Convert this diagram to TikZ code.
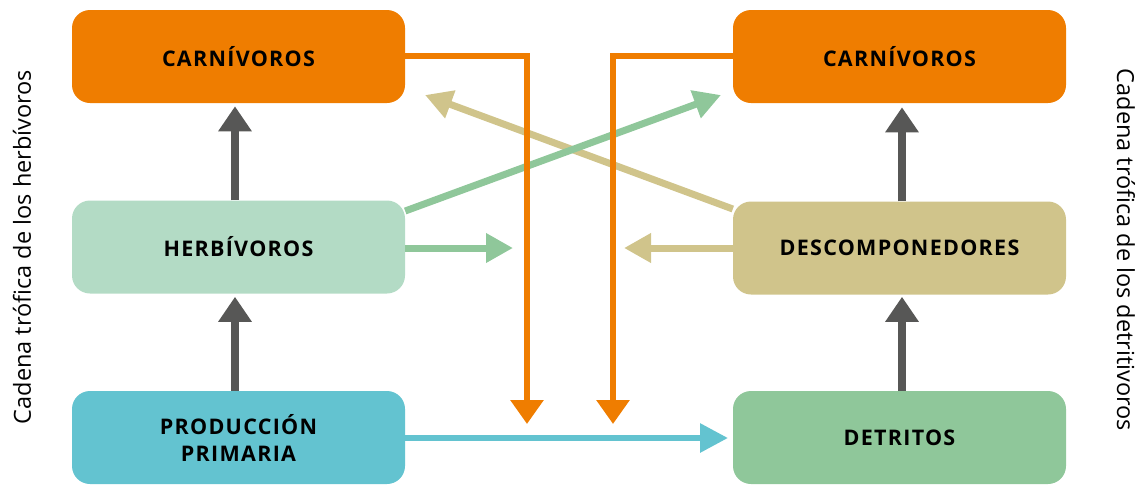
\documentclass[tikz,border=0pt]{standalone}
\usepackage{fontspec}
\setmainfont{Open Sans}
\newfontfamily\boxfont[LetterSpace=6]{Open Sans}
\usetikzlibrary{arrows.meta}
\definecolor{corange}{HTML}{EF7D00}
\definecolor{clgreen}{HTML}{B3DBC5}
\definecolor{ccyan}{HTML}{63C3D0}
\definecolor{ctan}{HTML}{D0C48B}
\definecolor{cgreen}{HTML}{8FC79A}
\definecolor{cgray}{HTML}{575756}
\tikzset{
  box/.style={rounded corners=18pt, minimum width=333pt, minimum height=93pt, inner sep=0pt,
    align=center, font=\boxfont\bfseries\fontsize{21.5pt}{27pt}\selectfont},
  grayarr/.style={draw=cgray, line width=8pt, -{Triangle[width=32pt,length=25pt]}},
  orarr/.style={draw=corange, line width=6pt, -{Triangle[width=32pt,length=24pt]}},
  thinarr/.style={line width=7pt, -{Triangle[width=28pt,length=27pt]}},
  side/.style={font=\fontsize{23.5pt}{28pt}\selectfont, inner sep=0pt}
}
\begin{document}
\begin{tikzpicture}[x=1pt,y=-1pt]
\useasboundingbox (0,0) rectangle (1141,485);
\node[box, fill=corange] (lc) at (238.5,56.5) {CARNÍVOROS};
\node[box, fill=clgreen] (lh) at (238.5,247) {HERBÍVOROS};
\node[box, fill=ccyan] (lp) at (238.5,437.5) {PRODUCCIÓN\\PRIMARIA};
\node[box, fill=corange] (rc) at (899.5,56.5) {CARNÍVOROS};
\node[box, fill=ctan] (rd) at (899.5,248) {DESCOMPONEDORES};
\node[box, fill=cgreen] (rt) at (899.5,437.5) {DETRITOS};

\coordinate (t1) at (527,424);
\coordinate (t2) at (613,424);
\coordinate (g1) at (513,248);
\coordinate (d1) at (624,248);

\draw[grayarr] (lh.north -| 235,0) -- ++(0,-94);
\draw[grayarr] (lp.north -| 235,0) -- ++(0,-94);
\draw[grayarr] (rd.north -| 902,0) -- ++(0,-94);
\draw[grayarr] (rt.north -| 902,0) -- ++(0,-94);

\draw[thinarr, draw=ctan] (rd.west |- 0,209) -- (425,95);
\draw[thinarr, draw=cgreen] (lh.east |- 0,211) -- (721,95);
\draw[thinarr, draw=cgreen] (lh.east |- 0,248) -- (g1);
\draw[thinarr, draw=ctan] (rd.west |- 0,248) -- (d1);

\draw[orarr] (lc.east |- 0,56) -| (t1);
\draw[orarr] (rc.west |- 0,56) -| (t2);

\draw[line width=6pt, draw=ccyan, -{Triangle[width=28pt,length=28pt]}] (lp.east |- 0,438) -- (728,438);

\node[side, rotate=90] (sl) at (22,247) {Cadena trófica de los herbívoros};
\node[side, rotate=-90] (sr) at (1126,250) {Cadena trófica de los detritivoros};
\end{tikzpicture}
\end{document}
